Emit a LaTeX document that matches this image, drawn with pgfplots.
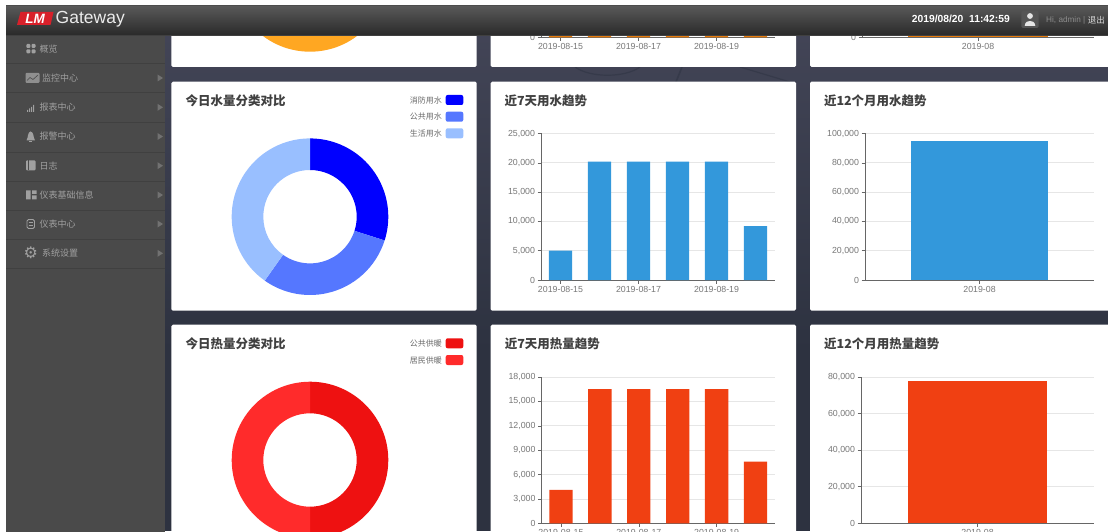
\documentclass[border=0pt]{standalone}
\usepackage{fontspec}
\usepackage{pgfplots}
\pgfplotsset{compat=1.18}
\setmainfont{Liberation Sans}
\newfontfamily\cjk{Noto Sans CJK SC}
\definecolor{water}{HTML}{3398DB}
\definecolor{heat}{HTML}{F04012}
\definecolor{gasbar}{HTML}{E87B0A}
\definecolor{gaspie}{HTML}{FFA722}
\definecolor{waterA}{HTML}{0000FF}
\definecolor{waterB}{HTML}{5577FF}
\definecolor{waterC}{HTML}{99BFFF}
\definecolor{heatA}{HTML}{EE1111}
\definecolor{heatB}{HTML}{FF2B2B}
\definecolor{side}{HTML}{4A4A4A}
\definecolor{sideline}{HTML}{404040}
\definecolor{sidetext}{HTML}{A0A0A0}
\definecolor{ticktext}{HTML}{777777}
\definecolor{axisline}{HTML}{666666}
\definecolor{gridline}{HTML}{E6E6E6}
\definecolor{titletext}{HTML}{404040}
\definecolor{legendtext}{HTML}{6A6A6A}
\definecolor{pagetop}{HTML}{444658}
\definecolor{pagemid}{HTML}{383C4C}
\definecolor{pagelow}{HTML}{2D3240}
\definecolor{pagemark}{HTML}{363A4A}
\definecolor{headtop}{HTML}{5A5A5A}
\definecolor{headlow}{HTML}{2A2A2A}
\definecolor{logored}{HTML}{D8202A}
\definecolor{iconbox}{HTML}{555555}

% Bar panel with a left value axis and horizontal rules
\pgfplotsset{
  panel/.style={
    scale only axis, anchor=south west,
    axis lines=left, axis line style={-,axisline,line width=0.7pt},
    tick align=outside, major tick length=3.5pt,
    tick style={axisline,line width=0.5pt},
    ymajorgrids, grid style={gridline,line width=0.8pt},
    ymin=0, height=146.5pt,
    ybar, bar shift=0pt,
    /pgf/number format/fixed,
    /pgf/number format/assume math mode=true,
    /pgf/number format/1000 sep={,},
    scaled y ticks=false,
    tick label style={font=\fontsize{8.8}{10}\selectfont,text=ticktext},
    yticklabel style={xshift=1pt},
    xticklabel style={yshift=1pt},
  },
  week/.style={panel, width=234pt, xmin=-0.5, xmax=5.5, bar width=23.4pt,
    xtick={0,2,4}, xticklabels={2019-08-15,2019-08-17,2019-08-19}},
  month/.style={panel, xmin=-0.5, xmax=0.5, xtick={0}, xticklabels={2019-08}},
  donut/.style={scale only axis, hide axis, anchor=center, width=170pt, height=170pt,
    xmin=-85, xmax=85, ymin=-85, ymax=85, clip=false},
}
% One ring sector: colour, start angle, share in percent
\newcommand{\ringsector}[3]{%
  \fill[#1] ([shift={(axis cs:0,0)}]#2:78.3pt)
    arc[start angle=#2, delta angle={-3.6*#3}, radius=78.3pt]
    -- ([shift={(axis cs:0,0)}]{#2-3.6*#3}:46.7pt)
    arc[start angle={#2-3.6*#3}, delta angle={3.6*#3}, radius=46.7pt] -- cycle;}
\newcommand{\cardtitle}[3]{\node[anchor=west,inner sep=0pt,text=titletext] at (#1,#2)
  {\cjk\bfseries\fontsize{12.5}{14}\selectfont #3};}
\newcommand{\legenditem}[3]{%
  \node[anchor=east,inner sep=0pt,text=legendtext] at (442,#1)
    {\cjk\fontsize{8}{10}\selectfont #2};
  \fill[#3,rounded corners=2pt] (445.7,#1-5) rectangle (463.3,#1+5);}
\newcommand{\menuitem}[3]{%
  \node[anchor=west,inner sep=0pt,text=sidetext] at (#1,#2)
    {\cjk\fontsize{9}{11}\selectfont #3};}
\newcommand{\menuarrow}[1]{\fill[sidetext!45!side] (157.5,#1-3.5) -- (163,#1) -- (157.5,#1+3.5) -- cycle;}

\begin{document}
\begin{tikzpicture}[x=1pt,y=1pt]
\path[use as bounding box] (0,0) rectangle (1108,531);
\clip (0,0) rectangle (1108,531);
\fill[white] (0,0) rectangle (1108,531);

% Page backdrop and white cards
\shade[top color=pagetop,middle color=pagemid,bottom color=pagelow] (6,180) rectangle (1108,526);
\fill[pagelow] (6,0) rectangle (1108,181);
\begin{scope}[yshift=531pt,y=-1pt]
  \draw[pagemark,line width=1.2pt] (575,67) .. controls (590,78) and (625,78) .. (640,67);
  \draw[pagemark,line width=1.6pt] (682,67) -- (676,82);
  \draw[pagemark,line width=1.2pt] (740,67) -- (790,82);
  \fill[white,rounded corners=1.5pt] (171.3,-10) rectangle (476.7,67);
  \fill[white,rounded corners=1.5pt] (490.6,-10) rectangle (796,67);
  \fill[white,rounded corners=1.5pt] (810,-10) rectangle (1120,67);
  \fill[white,rounded corners=1.5pt] (171.3,81.7) rectangle (476.7,310.7);
  \fill[white,rounded corners=1.5pt] (490.6,81.7) rectangle (796,310.7);
  \fill[white,rounded corners=1.5pt] (810,81.7) rectangle (1120,310.7);
  \fill[white,rounded corners=1.5pt] (171.3,324.7) rectangle (476.7,545);
  \fill[white,rounded corners=1.5pt] (490.6,324.7) rectangle (796,545);
  \fill[white,rounded corners=1.5pt] (810,324.7) rectangle (1120,545);
\end{scope}

% Ring charts
\begin{axis}[donut, at={(310pt,557.6pt)}]
  \addplot[draw=none,forget plot] coordinates {(0,0)};
  \ringsector{gaspie}{90}{100}
\end{axis}
\begin{axis}[donut, at={(310pt,314.3pt)}]
  \addplot[draw=none,forget plot] coordinates {(0,0)};
  \ringsector{waterA}{90}{29.9}
  \ringsector{waterB}{-17.64}{29.9}
  \ringsector{waterC}{-125.28}{40.2}
\end{axis}
\begin{axis}[donut, at={(310pt,71pt)}]
  \addplot[draw=none,forget plot] coordinates {(0,0)};
  \ringsector{heatA}{90}{50}
  \ringsector{heatB}{-90}{50}
\end{axis}

% Top row, mostly scrolled under the header
\begin{axis}[week, at={(541pt,493.7pt)}, ymax=25000, ytick={0}]
  \addplot[fill=gasbar,draw=none] coordinates {(0,20000)(1,20000)(2,20000)(3,20000)(4,20000)(5,20000)};
\end{axis}
\begin{axis}[month, at={(862pt,493.7pt)}, width=232pt, ymax=100000, bar width=139.5pt, ytick={0}]
  \addplot[fill=gasbar,draw=none] coordinates {(0,90000)};
\end{axis}

% Water panels
\begin{axis}[week, at={(541pt,251pt)}, ymax=25000, ytick={0,5000,10000,15000,20000,25000}]
  \addplot[fill=water,draw=none] coordinates {(0,5000)(1,20200)(2,20200)(3,20200)(4,20200)(5,9200)};
\end{axis}
\begin{axis}[month, at={(865pt,251pt)}, width=229pt, ymax=100000, bar width=137pt,
    ytick={0,20000,40000,60000,80000,100000}]
  \addplot[fill=water,draw=none] coordinates {(0,95100)};
\end{axis}

% Heat panels
\begin{axis}[week, at={(541.5pt,7.7pt)}, width=233.5pt, height=146.3pt, ymax=18000,
    ytick={0,3000,6000,9000,12000,15000,18000}]
  \addplot[fill=heat,draw=none] coordinates {(0,4100)(1,16500)(2,16500)(3,16500)(4,16500)(5,7600)};
\end{axis}
\begin{axis}[month, at={(861pt,7.7pt)}, width=233pt, height=146.3pt, ymax=80000, bar width=139.6pt,
    ytick={0,20000,40000,60000,80000}]
  \addplot[fill=heat,draw=none] coordinates {(0,78000)};
\end{axis}

\begin{scope}[yshift=531pt,y=-1pt]
  % Card headings
  \cardtitle{185.3}{101}{今日水量分类对比}
  \cardtitle{504.4}{101}{近7天用水趋势}
  \cardtitle{823.8}{101}{近12个月用水趋势}
  \cardtitle{185.5}{344}{今日热量分类对比}
  \cardtitle{504.6}{344}{近7天用热量趋势}
  \cardtitle{824}{344}{近12个月用热量趋势}
  % Legends
  \legenditem{100}{消防用水}{waterA}
  \legenditem{116.7}{公共用水}{waterB}
  \legenditem{133.3}{生活用水}{waterC}
  \legenditem{343.3}{公共供暖}{heatA}
  \legenditem{360}{居民供暖}{heatB}

  % Sidebar
  \fill[side] (6,35) rectangle (165,545);
  \foreach \ypos in {63.5,92.8,122,152,181,210,239.5,268.5}{
    \draw[sideline,line width=0.7pt] (6,\ypos) -- (165,\ypos);
  }
  \menuitem{39.3}{48.7}{概览}
  \menuitem{42}{78}{监控中心}
  \menuitem{39.3}{107.3}{报表中心}
  \menuitem{39.3}{136.5}{报警中心}
  \menuitem{39.3}{165.7}{日志}
  \menuitem{39.3}{195}{仪表基础信息}
  \menuitem{39.3}{224}{仪表中心}
  \menuitem{42}{253.3}{系统设置}
  \foreach \ypos in {78,107.3,136.5,165.7,195,224,253.3}{\menuarrow{\ypos}}
  % Menu icons
  \fill[sidetext,rounded corners=1pt] (26.3,44) rectangle (30.3,48) (31.5,44) rectangle (35.5,48)
    (26.3,49.3) rectangle (30.3,53.3) (31.5,49.3) rectangle (35.5,53.3);
  \fill[sidetext!80!side,rounded corners=1pt] (25.5,73) rectangle (39.5,83);
  \draw[side,line width=0.6pt] (27,80.5) -- (30,77.5) -- (33,79.5) -- (38,75);
  \fill[sidetext] (27,112) rectangle (28,110) (29,112) rectangle (30,108.5) (31,112) rectangle (32,107) (33,112) rectangle (34,105);
  \fill[sidetext] (30.5,131.5) .. controls (27.5,132) and (28.5,137) .. (26.5,140.5) -- (35,140.5) .. controls (33,137) and (34,132) .. (30.5,131.5);
  \fill[sidetext] (29,141) rectangle (32,142);
  \fill[sidetext,rounded corners=1pt] (26,160.5) rectangle (35.5,170.5);
  \draw[side,line width=0.5pt] (28,160.5) -- (28,170.5);
  \fill[sidetext] (26,190.5) rectangle (30.5,199.5) (32,190.5) rectangle (36.5,194) (32,195.5) rectangle (36.5,199.5);
  \draw[sidetext,rounded corners=1.5pt,line width=0.8pt] (27,219.5) rectangle (34.5,228.5);
  \draw[sidetext,line width=0.5pt] (28.5,222) -- (33,222) (28.5,225) -- (33,225);
  \node[text=sidetext,inner sep=0pt] at (30.7,253.3) {\fontspec{DejaVu Sans}\fontsize{16}{16}\selectfont ⚙};

  % Header bar and the clean margin above it
  \shade[top color=headtop,bottom color=headlow] (6,5.3) rectangle (1108,35);
  \fill[white] (0,-5) rectangle (1108,5.3);
  \draw[black!70,line width=0.6pt] (6,5.3) -- (1108,5.3);
  \draw[black!75,line width=0.5pt] (6,35) -- (1108,35);
  \fill[logored] (20.5,12) -- (53.5,12) -- (50.5,25) -- (17,25) -- cycle;
  \node[text=white,inner sep=0pt] at (35,18.5) {\bfseries\itshape\fontsize{13.5}{14}\selectfont LM};
  \node[anchor=west,text=white!92!black,inner sep=0pt] at (55.5,19.5) {\fontsize{17.5}{18}\selectfont Gateway};
  \node[anchor=west,text=white,inner sep=0pt] at (911.7,19.3)
    {\bfseries\fontsize{10.3}{12}\selectfont 2019/08/20\ \ 11:42:59};
  \fill[iconbox,rounded corners=1.5pt] (1021.4,10.7) rectangle (1038.7,28);
  \fill[white!90!black] (1030,16) circle (2.9);
  \fill[white!90!black] (1024.7,26) .. controls (1025,21.5) and (1028,21) .. (1030,21) .. controls (1032,21) and (1035,21.5) .. (1035.3,26) -- cycle;
  \node[anchor=west,text=white!55!black,inner sep=0pt] at (1046,20)
    {\fontsize{8.2}{9}\selectfont Hi, admin | };
  \node[anchor=east,text=white!85!black,inner sep=0pt] at (1105,20)
    {\cjk\fontsize{8.5}{9}\selectfont 退出};
\end{scope}
\end{tikzpicture}
\end{document}
